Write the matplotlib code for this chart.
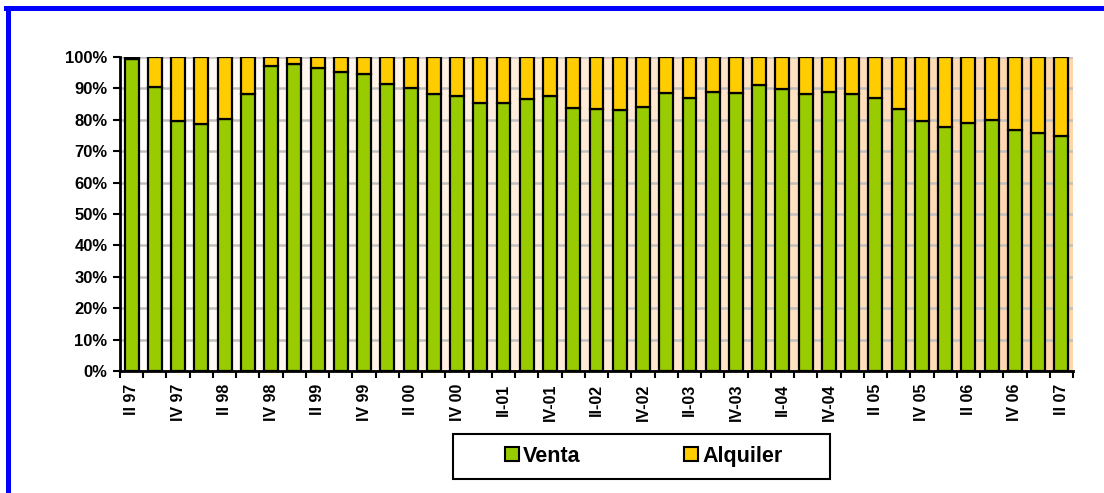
import numpy as np
import matplotlib
matplotlib.use("Agg")
import matplotlib.pyplot as plt
from matplotlib.lines import Line2D
from matplotlib.patches import Rectangle
from matplotlib.colors import LinearSegmentedColormap

# quarters from II 97 to II 07
quarters = ["II 97", "III 97", "IV 97", "I 98", "II 98", "III 98", "IV 98",
            "I 99", "II 99", "III 99", "IV 99", "I 00", "II 00", "III 00", "IV 00",
            "I-01", "II-01", "III-01", "IV-01", "I-02", "II-02", "III-02", "IV-02",
            "I-03", "II-03", "III-03", "IV-03", "I-04", "II-04", "III-04", "IV-04",
            "I 05", "II 05", "III 05", "IV 05", "I 06", "II 06", "III 06", "IV 06",
            "I 07", "II 07"]

venta = [99.5, 90.3, 79.7, 78.7, 80.3, 88.1, 97.1, 97.7, 96.5, 95.3, 94.7,
         91.5, 90.0, 88.1, 87.7, 85.3, 85.5, 86.5, 87.6, 83.7, 83.4, 83.2,
         84.0, 88.4, 87.1, 88.7, 88.4, 91.1, 89.7, 88.1, 88.7, 88.2, 86.8,
         83.4, 79.5, 77.6, 79.0, 79.8, 76.6, 75.8, 74.9]
alquiler = [100 - v for v in venta]

green = "#99CC00"
yellow = "#FFCC00"

plt.rcParams['font.family'] = ['Liberation Sans', 'DejaVu Sans']
plt.rcParams['font.weight'] = 'bold'

W, H = 1104, 493
fig = plt.figure(figsize=(W / 100, H / 100), dpi=100)
ax = fig.add_axes([120 / W, 1 - 371 / H, 953 / W, 314 / H])

# white -> peach background gradient
cmap = LinearSegmentedColormap.from_list("bg", ["#FFFFFF", "#FFD5AA"])
grad = np.linspace(0, 1, 256).reshape(1, -1)
ax.imshow(grad, cmap=cmap, extent=[0, 1, 0, 1], transform=ax.transAxes,
          aspect='auto', zorder=0)

x = np.arange(len(quarters))
ax.bar(x, venta, width=0.6, color=green, edgecolor="black", linewidth=1.6, zorder=3)
ax.bar(x, alquiler, bottom=venta, width=0.6, color=yellow, edgecolor="black",
       linewidth=1.6, zorder=3)

ax.set_xlim(-0.5, len(quarters) - 0.5)
ax.set_ylim(0, 100)

ax.set_yticks(np.arange(0, 101, 10))
ax.set_yticklabels([f"{v}%" for v in range(0, 101, 10)], fontsize=12, fontweight='bold')
ax.yaxis.grid(True, color="#C0C0C0", linewidth=1.8, zorder=1)
ax.set_axisbelow(True)

ax.set_xticks(x[::2])
ax.set_xticklabels(quarters[::2], rotation=90, fontsize=11.5, fontweight='bold')
ax.set_xticks(np.arange(-0.5, len(quarters), 1), minor=True)
ax.tick_params(axis='x', which='major', length=0, pad=9)
ax.tick_params(axis='x', which='minor', length=5, width=1.5, direction='out')
ax.tick_params(axis='y', length=5, width=1.5, direction='out', pad=4)

for s in ["top", "right"]:
    ax.spines[s].set_visible(False)
for s in ["left", "bottom"]:
    ax.spines[s].set_linewidth(2)

handles = [
    Line2D([], [], marker='s', linestyle='none', markersize=10.5,
           markerfacecolor=green, markeredgecolor='black', markeredgewidth=1.5),
    Line2D([], [], marker='s', linestyle='none', markersize=10.5,
           markerfacecolor=yellow, markeredgecolor='black', markeredgewidth=1.5),
]
leg = fig.legend(handles, ["Venta", "Alquiler"], loc='center',
                 bbox_to_anchor=(643.5 / W, 1 - 456.5 / H), ncol=2,
                 frameon=False, handlelength=0.7, handletextpad=0.15,
                 columnspacing=4.8, borderpad=0.3, prop={'size': 15.5, 'weight': 'bold'})

# legend frame
fig.add_artist(Rectangle((453 / W, 1 - 479 / H), 377 / W, 45 / H, fill=False,
                         edgecolor='black', linewidth=1.5, transform=fig.transFigure))

# blue border (left and top edges visible)
fig.add_artist(Line2D([7.5 / W, 7.5 / W], [0, 1 - 7.5 / H], color="#0000FF",
                      linewidth=3.6, transform=fig.transFigure))
fig.add_artist(Line2D([5.7 / W, 1], [1 - 8 / H, 1 - 8 / H], color="#0000FF",
                      linewidth=3.6, transform=fig.transFigure))

fig.savefig("out.png", dpi=100)
